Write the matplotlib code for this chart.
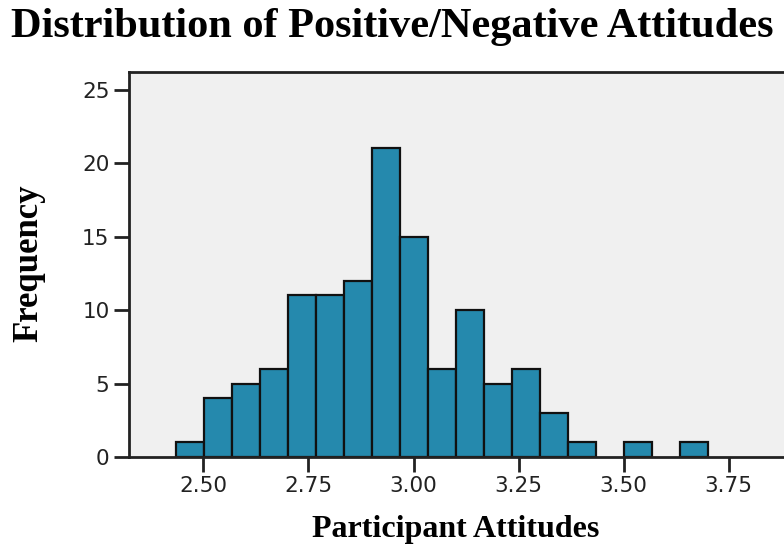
import matplotlib
matplotlib.use("Agg")
import matplotlib.pyplot as plt
import numpy as np

# Histogram data
bin_start = 2.436
bin_width = 0.0665
counts = [1, 4, 5, 6, 11, 11, 12, 21, 15, 6, 10, 5, 6, 3, 1, 0, 1, 0, 1]
x_ticks = [2.50, 2.75, 3.00, 3.25, 3.50, 3.75]
x_tick_labels = ["2.50", "2.75", "3.00", "3.25", "3.50", "3.75"]
y_ticks = [0, 5, 10, 15, 20, 25]

title = "Distribution of Positive/Negative Attitudes"
xlabel = "Participant Attitudes"
ylabel = "Frequency"

edges = bin_start + bin_width * np.arange(len(counts) + 1)

fig = plt.figure(figsize=(7.84, 5.46), dpi=100)
ax = fig.add_axes([129/784, (546-457)/546, (784-129)/784 + 0.01, (457-72)/546])
ax.set_facecolor("#f0f0f0")

lefts = edges[:-1]
for l, c in zip(lefts, counts):
    if c > 0:
        ax.bar(l, c, width=bin_width, align="edge", color="#2589ad",
               edgecolor="#111111", linewidth=1.6)

ax.set_xlim(2.323, 3.90)
ax.set_ylim(0, 26.2)
ax.set_xticks(x_ticks)
ax.set_xticklabels(x_tick_labels)
ax.set_yticks(y_ticks)
for s in ["left", "top", "bottom", "right"]:
    ax.spines[s].set_linewidth(2.0)
    ax.spines[s].set_color("#222222")
ax.tick_params(axis="both", direction="out", length=11, width=2, color="#222222",
               labelsize=15.5, labelcolor="#222222", pad=3)
for lab in ax.get_xticklabels() + ax.get_yticklabels():
    lab.set_family("DejaVu Sans")

fig.text(0.5, 1 - 37/546, title, ha="center", va="baseline", family="Liberation Serif",
         weight="bold", fontsize=30.5)
fig.text(456/784, 1 - 537/546, xlabel, ha="center", va="baseline", family="Liberation Serif",
         weight="bold", fontsize=23)
fig.text(29/784, 1 - 263/546, ylabel, ha="center", va="center", rotation=90,
         family="Liberation Serif", weight="bold", fontsize=25)

fig.savefig("out.png", dpi=100)
